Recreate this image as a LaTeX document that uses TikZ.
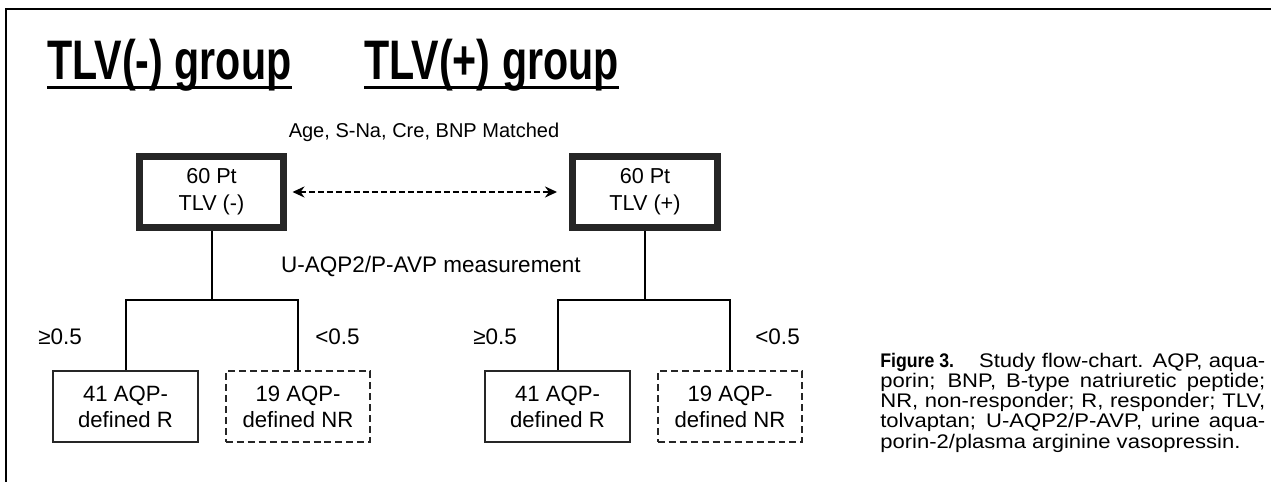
\documentclass[tikz,border=0pt]{standalone}
\usepackage{fontspec}
\setmainfont{Liberation Sans}
\newfontfamily\capfont[FakeStretch=1.12]{Liberation Sans}
\usepackage{graphicx}
\usetikzlibrary{positioning,arrows.meta}

\tikzset{
  grouptitle/.style={inner sep=0pt, anchor=base west, font=\fontsize{31.7}{36}\selectfont\bfseries},
  ptbox/.style={draw=black!85, line width=0.14cm, minimum width=2.9cm, minimum height=1.44cm,
    inner sep=0pt, align=center, font=\fontsize{12.3}{15.3}\selectfont},
  rbox/.style={draw=black!85, line width=0.04cm, minimum width=2.9cm, minimum height=1.42cm,
    inner sep=0pt, align=center, font=\fontsize{12.6}{14.7}\selectfont},
  nrbox/.style={rbox, dash pattern=on 0.14cm off 0.08cm},
  branch/.style={draw=black, line width=0.04cm},
  cutoff/.style={inner sep=0pt, anchor=base west, font=\fontsize{12.8}{15}\selectfont},
  matchline/.style={line width=0.04cm, dash pattern=on 0.12cm off 0.06cm,
    {Stealth[length=0.24cm,width=0.22cm]}-{Stealth[length=0.24cm,width=0.22cm]},
    shorten <=0.1cm, shorten >=0.24cm},
  caption/.style={inner sep=0pt, anchor=north west, text width=7.7cm, align=justify,
    font=\capfont\fontsize{11.2}{10.4}\selectfont},
}

\begin{document}
\begin{tikzpicture}[x=0.02cm, y=-0.02cm]
    \useasboundingbox (0,0) rectangle (1271,482);
    \draw [line width=0.05cm] (6,482) -- (6,9) -- (1271,9);

    % group headings
    \node[grouptitle] (neg-title) at (47,80) {\scalebox{0.74}[1]{TLV(-) group}};
    \node[grouptitle] (pos-title) at (364,80) {\scalebox{0.74}[1]{TLV(+) group}};
    \foreach \g in {neg,pos}
        \draw [line width=0.06cm] ([yshift=-0.16cm]\g-title.base west) -- ([yshift=-0.16cm]\g-title.base east);

    \node[anchor=base, inner sep=0pt, font=\fontsize{11.4}{14}\selectfont] (match) at (424,138) {Age, S-Na, Cre, BNP Matched};
    \node[ptbox] (neg) at (211.5,192) {60 Pt\\TLV (-)};
    \node[ptbox] (pos) at (645,192) {60 Pt\\TLV (+)};
    \draw [matchline] (neg) -- (pos);

    \node[anchor=base, inner sep=0pt, font=\fontsize{12.8}{15}\selectfont] (measure) at (431,273) {U-AQP2/P-AVP measurement};

    % responders / non-responders
    \node[rbox] (neg-r) at (125.5,406.5) {41 AQP-\\defined R};
    \node[nrbox] (neg-nr) at (298,406.5) {19 AQP-\\defined NR};
    \node[rbox] (pos-r) at (557.5,406.5) {41 AQP-\\defined R};
    \node[nrbox] (pos-nr) at (730,406.5) {19 AQP-\\defined NR};

    \coordinate (neg-split) at (211.5,300);
    \coordinate (pos-split) at (645,300);
    \foreach \g in {neg,pos}{
        \draw [branch] (\g) -- (\g-split);
        \draw [branch] (\g-r.north) |- (\g-split) -| (\g-nr.north);
    }

    \node[cutoff] (neg-hi) at (38,345) {≥0.5};
    \node[cutoff] (neg-lo) at (315,345) {<0.5};
    \node[cutoff] (pos-hi) at (473,345) {≥0.5};
    \node[cutoff] (pos-lo) at (755,345) {<0.5};

    \node[caption] (fig-caption) at (880,353) {{\fontspec{Liberation Sans}\bfseries\scalebox{0.9}[1]{Figure 3.}}\hspace{0.5cm}Study flow-chart. AQP, aqua-\linebreak
        porin; BNP, B-type natriuretic peptide;\linebreak
        NR, non-responder; R, responder; TLV,\linebreak
        tolvaptan; U-AQP2/P-AVP, urine aqua-\linebreak
        porin-2/plasma arginine vasopressin.};
\end{tikzpicture}
\end{document}
